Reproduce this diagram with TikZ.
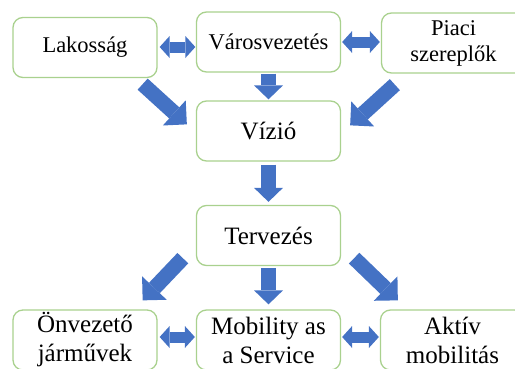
\documentclass[tikz,border=0pt]{standalone}
\usepackage{fontspec}
\setmainfont{Liberation Serif}
\usepackage{tikz}
\usetikzlibrary{arrows.meta}
\definecolor{arrowblue}{HTML}{4472C4}
\definecolor{boxgreen}{HTML}{A9D18E}
\tikzset{
  box/.style={draw=boxgreen, line width=1.3pt, rounded corners=10pt,
    minimum width=144pt, minimum height=60pt, inner sep=0pt, align=center},
  smalltext/.style={font=\fontsize{22.5}{26}\selectfont},
  bigtext/.style={font=\fontsize{25}{29}\selectfont},
  downarrow/.style={draw=arrowblue, line width=15pt,
    -{Triangle[width=29pt, length=14pt, line width=0pt]}},
  slantarrow/.style={draw=arrowblue, line width=15pt,
    -{Triangle[width=34pt, length=17pt, line width=0pt]}},
  twoarrow/.style={draw=arrowblue, line width=11pt,
    {Triangle[width=22pt, length=10pt, line width=0pt]}-{Triangle[width=22pt, length=10pt, line width=0pt]}}
}
\begin{document}
\begin{tikzpicture}[x=1pt, y=-1pt]
  \useasboundingbox (0, 0) rectangle (515, 368);
  \clip (0, 0) rectangle (515, 368);

  \node[box, smalltext] (lak) at (85, 47.5) {Lakosság};
  \node[box, smalltext] (vv) at (268.5, 42) {Városvezetés};
  \node[box, smalltext] (piaci) at (453.5, 43) {Piaci\\szereplők};
  \node[box, bigtext] (viz) at (268.5, 131) {Vízió};
  \node[box, bigtext] (terv) at (268.5, 235.5) {Tervezés};
  \node[box, bigtext] (onv) at (85, 340) {Önvezető\\járművek};
  \node[box, bigtext] (mob) at (268.5, 340) {Mobility as\\a Service};
  \node[box, bigtext] (akt) at (452.5, 340) {Aktív\\mobilitás};

  % top row
  \draw[twoarrow] ([shift={(2, -0.5)}]lak.east) -- ([shift={(-0.5, -0.5)}]lak.east -| vv.west);
  \draw[twoarrow] ([shift={(1, 0)}]vv.east) -- ([shift={(-1, 0)}]vv.east -| piaci.west);

  % into the vision
  \draw[downarrow] ([shift={(0, 1)}]vv.south) -- ([shift={(0, -1)}]viz.north);
  \draw[slantarrow] ([shift={(-15, 6)}]lak.south east) -- ([shift={(-9, 24)}]viz.north west);
  \draw[slantarrow] ([shift={(14, 11)}]piaci.south west) -- ([shift={(9, 25)}]viz.north east);
  \draw[downarrow] ([shift={(0, 3)}]viz.south) -- ([shift={(0, -3)}]terv.north);

  % out of the planning
  \draw[slantarrow] ([shift={(-13, -8)}]terv.south west) -- ([shift={(-15, -9)}]onv.north east);
  \draw[downarrow] ([shift={(0, 2)}]terv.south) -- ([shift={(0, -5)}]mob.north);
  \draw[slantarrow] ([shift={(13, -8)}]terv.south east) -- ([shift={(18, -9)}]akt.north west);

  % bottom row
  \draw[twoarrow] ([shift={(2, -3)}]onv.east) -- ([shift={(-1, -3)}]onv.east -| mob.west);
  \draw[twoarrow] ([shift={(1, -3)}]mob.east) -- ([shift={(-1, -3)}]mob.east -| akt.west);
\end{tikzpicture}
\end{document}
